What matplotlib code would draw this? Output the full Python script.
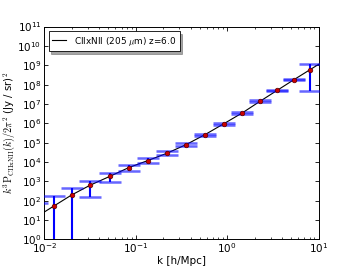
import matplotlib
matplotlib.use("Agg")
import matplotlib.pyplot as plt
from matplotlib.ticker import LogLocator, NullLocator, LogFormatterMathtext
import numpy as np

# ---- data ----
k_pts = [0.0084, 0.01265, 0.020, 0.0319, 0.0519, 0.0836, 0.135, 0.22, 0.355,
         0.572, 0.922, 1.47, 2.30, 3.51, 5.37, 8.0]
p_pts = [17, 52, 200, 660, 1830, 5150, 11800, 28000, 79000,
         2.6e5, 9.6e5, 3.5e6, 1.4e7, 5.0e7, 1.8e8, 5.8e8]
p_lo = [0.1, 0.1, 0.1, 165, 940, 3470, 8900, 22400, 64500,
        2.1e5, 8.5e5, 3.2e6, 1.27e7, 4.6e7, 1.65e8, 4.6e7]
p_hi = [72, 178, 460, 1050, 2600, 6760, 15500, 35500, 95700,
        2.9e5, 1.03e6, 3.8e6, 1.55e7, 5.5e7, 1.95e8, 1.12e9]

k_model = [0.01, 0.01265, 0.020, 0.0319, 0.0519, 0.0836, 0.135, 0.22, 0.355,
           0.572, 0.922, 1.47, 2.30, 3.51, 5.37, 8.0, 10.0]
p_model = [26, 52, 200, 640, 1800, 5100, 11800, 28500, 79000,
           2.6e5, 9.6e5, 3.5e6, 1.4e7, 5.0e7, 1.8e8, 5.8e8, 1.12e9]

legend_label = r"CIIxNII (205 $\mu$m) z=6.0"
xlabel = "k [h/Mpc]"
ylabel = r"$k^3\mathrm{P}_{\mathrm{CIIxNII}}(k)/2\pi^2$ (Jy / sr)$^2$"

plt.rcParams['font.family'] = ['DejaVu Sans']
plt.rcParams['mathtext.fontset'] = 'cm'
plt.rcParams['font.size'] = 7.5

fig = plt.figure(figsize=(3.54, 2.66), dpi=100)
ax = fig.add_axes([0.125, 0.1, 0.775, 0.8])

ax.plot(k_model, p_model, color='k', lw=0.8, label=legend_label, zorder=2)

k_arr = np.array(k_pts)
p_arr = np.array(p_pts)
yerr = np.array([p_arr - np.array(p_lo), np.array(p_hi) - p_arr])
eb = ax.errorbar(k_arr, p_arr, yerr=yerr, fmt='none', ecolor='b',
                 elinewidth=1.5, capsize=7.7, capthick=1.8, zorder=3)
for cap in eb[1]:
    cap.set_alpha(0.6)
ax.plot(k_arr, p_arr, 'o', color='#cc0000', mec='#550000', mew=0.5,
        ms=3.3, zorder=4, linestyle='none')

ax.set_xscale('log')
ax.set_yscale('log')
ax.set_xlim(1e-2, 1e1)
ax.set_ylim(1e0, 1e11)
ax.yaxis.set_major_locator(LogLocator(base=10, numticks=20))
ax.yaxis.set_major_formatter(LogFormatterMathtext())
ax.yaxis.set_minor_locator(NullLocator())
ax.tick_params(which='both', direction='in', top=True, right=True, labelsize=7.5)
ax.tick_params(axis='x', which='both', pad=1.2)
ax.tick_params(axis='y', which='both', pad=2.0)
ax.tick_params(which='major', length=2.8, width=0.6)
ax.tick_params(which='minor', length=1.4, width=0.5)
for s in ax.spines.values():
    s.set_linewidth(0.7)

ax.set_xlabel(xlabel, fontsize=7.5, labelpad=0.5)
ax.set_ylabel(ylabel, fontsize=7.3, labelpad=0)

leg = ax.legend(loc='upper left', fontsize=6.4, fancybox=False, shadow=True,
                handlelength=1.6, borderaxespad=0.5, framealpha=1)
leg.get_frame().set_edgecolor('k')
leg.get_frame().set_linewidth(0.6)

fig.savefig('out.png', dpi=100)
